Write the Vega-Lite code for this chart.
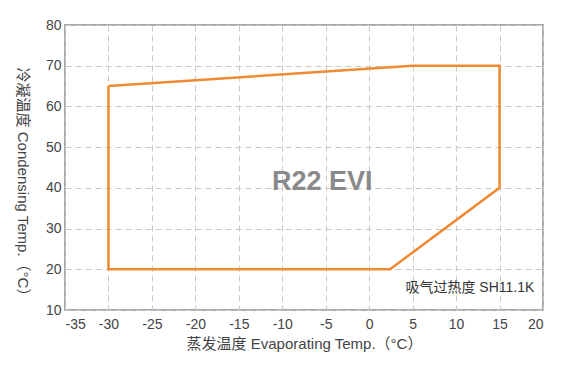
{
  "$schema": "https://vega.github.io/schema/vega-lite/v6.json",
  "width": 478,
  "height": 285,
  "autosize": "none",
  "padding": {"left": 65, "top": 25, "right": 26, "bottom": 55},
  "config": {
    "view": {"stroke": "#aaaaaa", "strokeWidth": 2},
    "font": "Liberation Sans",
    "axis": {
      "domain": false,
      "tickSize": 0,
      "tickColor": "transparent",
      "grid": true,
      "gridColor": "#c8c8c8",
      "gridDash": [6, 4],
      "gridWidth": 1,
      "gridOpacity": 1,
      "labelColor": "#444444",
      "labelFontSize": 14,
      "titleColor": "#444444",
      "titleFontSize": 15,
      "titleFontWeight": "normal",
      "labelFont": "Liberation Sans",
      "titleFont": "Liberation Sans, Noto Sans CJK SC"
    }
  },
  "layer": [
    {
      "data": {"values": [
        {"x": -30, "y": 65, "o": 1},
        {"x": 5, "y": 70, "o": 2},
        {"x": 15, "y": 70, "o": 3},
        {"x": 15, "y": 40, "o": 4},
        {"x": 2.4, "y": 20, "o": 5},
        {"x": -30, "y": 20, "o": 6},
        {"x": -30, "y": 65, "o": 7}
      ]},
      "mark": {"type": "line", "color": "#ef8a33", "strokeWidth": 2.5, "strokeJoin": "miter"},
      "encoding": {
        "x": {"field": "x", "type": "quantitative",
          "scale": {"domain": [-35, 20], "nice": false},
          "axis": {"grid": true, "values": [-35,-30,-25,-20,-15,-10,-5,0,5,10,15,20],
            "labelExpr": "toString(datum.value)",
            "labelPadding": 7, "title": "蒸发温度  Evaporating Temp.（°C）", "titlePadding": 5}},
        "y": {"field": "y", "type": "quantitative",
          "scale": {"domain": [10, 80], "nice": false},
          "axis": {"grid": true, "values": [10,15,20,25,30,35,40,45,50,55,60,65,70,75,80],
            "labelExpr": "datum.value % 10 == 0 ? toString(datum.value) : ''",
            "labelPadding": 4, "title": "冷凝温度 Condensing Temp.（°C）", "titleAngle": 90, "titlePadding": 31, "titleY": 160}},
        "order": {"field": "o", "type": "quantitative"}
      }
    },
    {
      "data": {"values": [{"x": -5.4, "y": 41.5, "t": "R22 EVI"}]},
      "mark": {"type": "text", "fontSize": 27, "fontWeight": "bold", "color": "#8a8a8a", "font": "Liberation Sans"},
      "encoding": {
        "x": {"field": "x", "type": "quantitative"},
        "y": {"field": "y", "type": "quantitative"},
        "text": {"field": "t"}
      }
    },
    {
      "data": {"values": [{"x": 19, "y": 15.4, "t": "吸气过热度 SH11.1K"}]},
      "mark": {"type": "text", "fontSize": 14, "color": "#333333", "align": "right", "font": "Liberation Sans, Noto Sans CJK SC"},
      "encoding": {
        "x": {"field": "x", "type": "quantitative"},
        "y": {"field": "y", "type": "quantitative"},
        "text": {"field": "t"}
      }
    }
  ]
}
